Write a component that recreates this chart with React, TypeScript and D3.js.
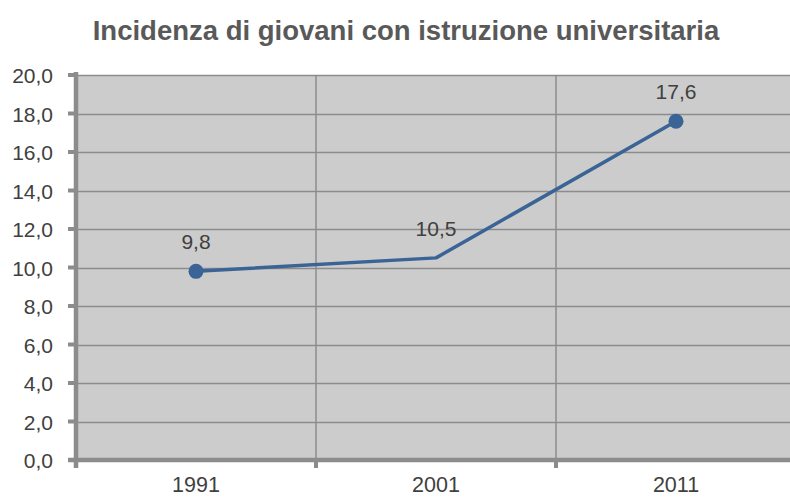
import { useRef, useEffect } from "react"
import * as d3 from "d3"

const years = ["1991", "2001", "2011"]
const values = [9.8, 10.5, 17.6]
const showMarker = [true, false, true]
const yTicks = [0, 2, 4, 6, 8, 10, 12, 14, 16, 18, 20]

const W = 790
const H = 497

export default function App() {
  const svgRef = useRef<SVGSVGElement>(null)

  useEffect(() => {
    if (!svgRef.current) return
    const svg = d3.select(svgRef.current)
    svg.selectAll("*").remove()

    const left = 76
    const right = 796
    const top = 75
    const bottom = 460

    const x = d3.scaleBand().domain(years).range([left, right])
    const y = d3.scaleLinear().domain([0, 20]).range([bottom, top])
    const font = "'Liberation Sans', Arial, sans-serif"
    const fmt = (d: number) => d3.format(".1f")(d).replace(".", ",")

    // title
    svg.append("text")
      .attr("x", 406).attr("y", 40)
      .attr("text-anchor", "middle")
      .attr("font-family", font).attr("font-weight", "bold")
      .attr("font-size", 27.5).attr("fill", "#595959")
      .text("Incidenza di giovani con istruzione universitaria")

    // plot background
    svg.append("rect")
      .attr("x", left).attr("y", top)
      .attr("width", right - left).attr("height", bottom - top)
      .attr("fill", "#cccccc")

    // horizontal gridlines
    svg.append("g").selectAll("line").data(yTicks.slice(1)).join("line")
      .attr("x1", left).attr("x2", right)
      .attr("y1", d => Math.round(y(d)) + 0.5).attr("y2", d => Math.round(y(d)) + 0.5)
      .attr("stroke", "#8c8c8c").attr("stroke-width", 1.5)

    // vertical gridlines at category boundaries
    const bounds = years.map(d => x(d)!).slice(1)
    svg.append("g").selectAll("line").data(bounds).join("line")
      .attr("x1", d => d).attr("x2", d => d)
      .attr("y1", top).attr("y2", bottom)
      .attr("stroke", "#8c8c8c").attr("stroke-width", 1.5)

    // y axis
    const axisColor = "#8c8c8c"
    svg.append("line")
      .attr("x1", left).attr("x2", left).attr("y1", top - 3).attr("y2", bottom + 8)
      .attr("stroke", axisColor).attr("stroke-width", 4.5)
    svg.append("g").selectAll("line").data(yTicks).join("line")
      .attr("x1", left - 8).attr("x2", left)
      .attr("y1", d => y(d)).attr("y2", d => y(d))
      .attr("stroke", axisColor).attr("stroke-width", 4)
    svg.append("g").selectAll("text").data(yTicks).join("text")
      .attr("x", left - 23).attr("y", d => y(d) + 8)
      .attr("text-anchor", "end")
      .attr("font-family", font).attr("font-size", 21).attr("fill", "#404040")
      .text(fmt)

    // x axis
    svg.append("line")
      .attr("x1", left - 8).attr("x2", right).attr("y1", bottom).attr("y2", bottom)
      .attr("stroke", axisColor).attr("stroke-width", 4.5)
    svg.append("g").selectAll("line").data([left, ...bounds]).join("line")
      .attr("x1", d => d).attr("x2", d => d)
      .attr("y1", bottom).attr("y2", bottom + 8)
      .attr("stroke", axisColor).attr("stroke-width", 4)
    svg.append("g").selectAll("text").data(years).join("text")
      .attr("x", d => x(d)! + x.bandwidth() / 2).attr("y", 492)
      .attr("text-anchor", "middle")
      .attr("font-family", font).attr("font-size", 21.5).attr("fill", "#404040")
      .text(d => d)

    // line
    const cx = (i: number) => x(years[i])! + x.bandwidth() / 2
    const line = d3.line<number>()
      .x((d, i) => cx(i))
      .y(d => y(d))
    svg.append("path").datum(values)
      .attr("fill", "none").attr("stroke", "#3a6496").attr("stroke-width", 3.5)
      .attr("stroke-linejoin", "round")
      .attr("d", line)

    const pts = values.map((v, i) => ({ v, i })).filter(d => showMarker[d.i])
    svg.append("g").selectAll("circle").data(pts).join("circle")
      .attr("cx", d => cx(d.i)).attr("cy", d => y(d.v))
      .attr("r", 7.5).attr("fill", "#3a6496")

    // data labels
    svg.append("g").selectAll("text").data(values).join("text")
      .attr("x", (d, i) => cx(i))
      .attr("y", d => y(d) - 22)
      .attr("text-anchor", "middle")
      .attr("font-family", font).attr("font-size", 21).attr("fill", "#404040")
      .text(fmt)
  }, [])

  return (
    <svg
      ref={svgRef}
      width={W}
      height={H}
      viewBox={`0 0 ${W} ${H}`}
      style={{ position: "absolute", left: 0, top: 0, background: "#fff" }}
    />
  )
}
